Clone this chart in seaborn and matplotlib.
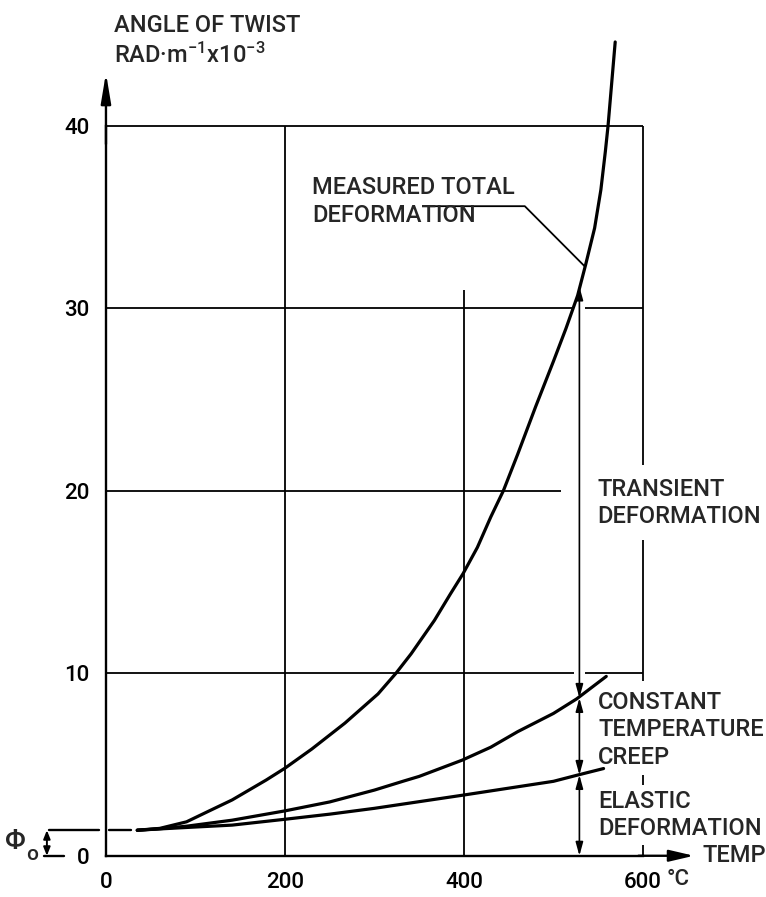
import numpy as np
import pandas as pd
import seaborn as sns
import matplotlib.pyplot as plt

# values: temperature (°C) and angle of twist (rad/m x 10^-3)
total_temp = [35, 60, 90, 115, 141, 179, 200, 230, 267, 304, 324, 341, 367, 385,
              399, 415, 430, 444, 460, 480, 500, 514, 527, 536, 546, 553, 558,
              561, 565, 569]
total_twist = [1.4, 1.5, 1.86, 2.45, 3.06, 4.15, 4.8, 5.85, 7.27, 8.87, 10.0, 11.07,
               12.9, 14.36, 15.46, 16.9, 18.57, 20.0, 22.0, 24.6, 27.1, 28.9, 30.7,
               32.4, 34.4, 36.5, 38.6, 40.0, 42.3, 44.6]
creep_temp = [35, 60, 90, 141, 200, 250, 300, 333, 350, 398, 430, 460, 500, 526, 559]
creep_twist = [1.4, 1.48, 1.62, 1.95, 2.46, 2.95, 3.6, 4.1, 4.35, 5.24, 5.95, 6.8,
               7.8, 8.6, 9.83]
elastic_temp = [35, 60, 90, 141, 200, 250, 300, 400, 500, 526, 556]
elastic_twist = [1.4, 1.47, 1.55, 1.68, 2.0, 2.28, 2.6, 3.33, 4.08, 4.41, 4.78]

x_ticks = [0, 200, 400, 600]
x_labels = ["0", "200", "400", "600"]
x_minor = [100, 300, 500]
y_ticks = [0, 10, 20, 30, 40]
phi0 = 1.4
arrow_x = 529
arrow_levels = [0, 4.43, 8.65, 31.2]

df = pd.concat([
    pd.DataFrame({"temp": total_temp, "twist": total_twist, "curve": "total"}),
    pd.DataFrame({"temp": creep_temp, "twist": creep_twist, "curve": "creep"}),
    pd.DataFrame({"temp": elastic_temp, "twist": elastic_twist, "curve": "elastic"}),
])

sns.set_style("white")
plt.rcParams["font.family"] = ["Roboto", "DejaVu Sans"]
plt.rcParams["font.weight"] = "medium"
plt.rcParams["mathtext.fontset"] = "custom"
plt.rcParams["mathtext.rm"] = "Roboto:medium"
plt.rcParams["mathtext.default"] = "regular"

fig = plt.figure(figsize=(7.66, 8.97), dpi=100)
ax = fig.add_axes([0, 0, 1, 1])
ax.set_xlim(-118.4, 737.5)
ax.set_ylim(-2.26, 46.9)

K = "black"
fs = 17
glw = 1.3

# grid (partial, as drawn in the original)
ax.hlines([10, 10], [0, 535], [523, 600], color=K, lw=glw)
ax.hlines(20, 0, 508, color=K, lw=glw)
ax.hlines([30, 30], [0, 535], [523, 600], color=K, lw=glw)
ax.hlines(40, 0, 600, color=K, lw=glw)
ax.vlines(200, 0, 40, color=K, lw=glw)
ax.vlines(400, 0, 31, color=K, lw=glw)
ax.vlines([600] * 4, [21.4, 9.6, 3.9, 0], [40, 17.3, 4.4, 0.6], color=K, lw=glw)

# curves
sns.lineplot(data=df, x="temp", y="twist", hue="curve", palette=[K] * 3,
             lw=2.3, legend=False, sort=False, estimator=None, ax=ax)
ax.plot([-64, -8], [phi0, phi0], color=K, lw=1.7)
ax.plot([3, 28], [phi0, phi0], color=K, lw=1.7)

# axes
for s in ["top", "right"]:
    ax.spines[s].set_visible(False)
ax.spines["left"].set_position(("data", 0))
ax.spines["bottom"].set_position(("data", 0))
ax.spines["left"].set_bounds(0, 40)
ax.spines["bottom"].set_bounds(0, 600)
for s in ["left", "bottom"]:
    ax.spines[s].set_linewidth(1.7)
    ax.spines[s].set_color(K)
ax.annotate("", xy=(0, 42.9), xytext=(0, 39),
            arrowprops=dict(arrowstyle="-|>,head_length=1.8,head_width=0.3",
                            lw=1.7, color=K, shrinkA=0, shrinkB=0, mutation_scale=10))
ax.annotate("", xy=(657, 0), xytext=(595, 0),
            arrowprops=dict(arrowstyle="-|>,head_length=1.5,head_width=0.35",
                            lw=1.7, color=K, shrinkA=0, shrinkB=0, mutation_scale=10))

ax.set_xticks(x_ticks, x_labels)
ax.set_xticks(x_minor, minor=True)
ax.set_yticks(y_ticks)
ax.tick_params(axis="both", which="both", direction="out", length=5, width=1.4,
               color=K, labelsize=16, labelcolor=K, pad=7)
ax.set_xlabel("")
ax.set_ylabel("")
ax.text(627, -1.3, "°C", fontsize=16, ha="left", va="center")
ax.text(666, 0, "TEMP", fontsize=fs, ha="left", va="center")

# titles
ax.text(9, 45.5, "ANGLE OF TWIST", fontsize=fs, ha="left", va="center")
ax.text(9, 43.85, "RAD·m$^{-1}$x10$^{-3}$", fontsize=fs, ha="left", va="center")

# phi_0 marker
ax.annotate("", xy=(-66, phi0), xytext=(-66, 0),
            arrowprops=dict(arrowstyle="<|-|>,head_length=0.5,head_width=0.2",
                            lw=1.4, color=K, shrinkA=0, shrinkB=0, mutation_scale=10))
ax.plot([-69, -47], [0, 0], color=K, lw=1.7)
ax.text(-101, 0.8, "Φ", fontsize=20, ha="center", va="center")
ax.text(-83, 0.05, "o", fontsize=15, ha="center", va="center")

# dimension arrows
for lo, hi in zip(arrow_levels[:-1], arrow_levels[1:]):
    ax.annotate("", xy=(arrow_x, hi), xytext=(arrow_x, lo),
                arrowprops=dict(arrowstyle="<|-|>,head_length=0.8,head_width=0.22",
                                lw=1.2, color=K, shrinkA=0, shrinkB=0, mutation_scale=10))

# labels
ax.text(230, 36.6, "MEASURED TOTAL", fontsize=fs, ha="left", va="center")
ax.text(230, 35.1, "DEFORMATION", fontsize=fs, ha="left", va="center")
ax.plot([362, 468, 535], [35.6, 35.6, 32.3], color=K, lw=1.3)

ax.text(549, 20.05, "TRANSIENT", fontsize=fs, ha="left", va="center")
ax.text(549, 18.6, "DEFORMATION", fontsize=fs, ha="left", va="center")
ax.text(550, 8.4, "CONSTANT", fontsize=fs, ha="left", va="center")
ax.text(550, 6.9, "TEMPERATURE", fontsize=fs, ha="left", va="center")
ax.text(550, 5.4, "CREEP", fontsize=fs, ha="left", va="center")
ax.text(550, 2.95, "ELASTIC", fontsize=fs, ha="left", va="center")
ax.text(550, 1.5, "DEFORMATION", fontsize=fs, ha="left", va="center")

fig.savefig("out.png", dpi=100)
